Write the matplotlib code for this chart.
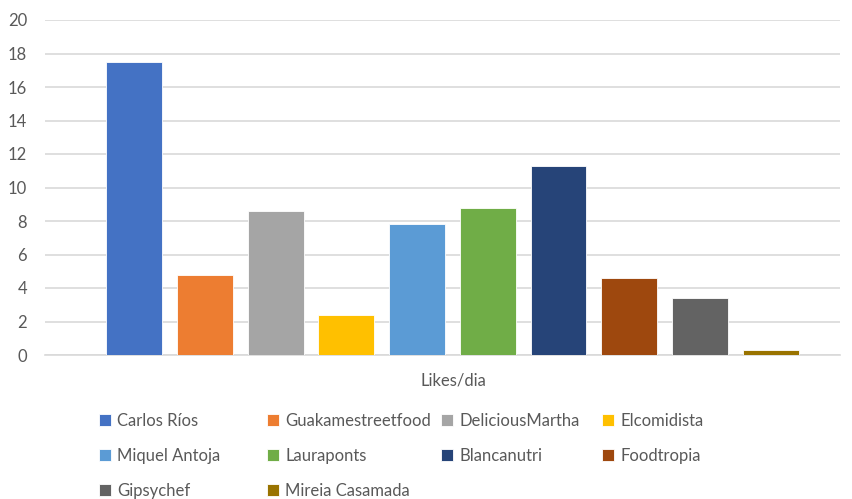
import matplotlib.pyplot as plt

# data
names = ['Carlos Ríos', 'Guakamestreetfood', 'DeliciousMartha', 'Elcomidista',
         'Miquel Antoja', 'Lauraponts', 'Blancanutri', 'Foodtropia',
         'Gipsychef', 'Mireia Casamada']
likes = [17.5, 4.75, 8.57, 2.38, 7.85, 8.78, 11.3, 4.62, 3.4, 0.3]
colors = ['#4472C4', '#ED7D31', '#A5A5A5', '#FFC000', '#5B9BD5',
          '#70AD47', '#264478', '#9E480E', '#636363', '#997300']
yticks = [0, 2, 4, 6, 8, 10, 12, 14, 16, 18, 20]
category = 'Likes/dia'

text_color = '#595959'
grid_color = '#D9D9D9'
plt.rcParams['font.family'] = ['Lato', 'DejaVu Sans']

fig = plt.figure(figsize=(8.53, 4.99), dpi=100)
ax = fig.add_axes([45 / 853, 144 / 499, 795 / 853, 335 / 499])

bars = []
for i, (n, v, c) in enumerate(zip(names, likes, colors)):
    b = ax.bar(i, v, width=0.79, color=c, edgecolor='white', linewidth=0.6,
               label=n, zorder=3)
    bars.append(b)

ax.set_xlim(-1.26, 9.98)
ax.set_ylim(0, 20)
ax.set_yticks(yticks)
ax.set_xticks([])
ax.yaxis.grid(True, color=grid_color, linewidth=1.2, zorder=0)
ax.tick_params(axis='y', length=0, pad=13, labelsize=12, labelcolor=text_color)
for s in ['top', 'right', 'left']:
    ax.spines[s].set_visible(False)
ax.spines['bottom'].set_color(grid_color)
ax.spines['bottom'].set_linewidth(1.2)

fig.text(453 / 853, 1 - 381 / 499, category, ha='center', va='center',
         fontsize=12, color=text_color)

# legend laid out in 4 columns, row by row like the original
col_x = [99, 267, 441, 602]
for c in range(4):
    idx = [k for k in (c, c + 4, c + 8) if k < len(names)]
    leg = fig.legend([bars[k] for k in idx], [names[k] for k in idx],
                     loc='upper left', bbox_to_anchor=(col_x[c] / 853, 1 - 413 / 499),
                     frameon=False, fontsize=12, handlelength=0.7, handleheight=0.7,
                     handletextpad=0.4, labelspacing=1.13, borderaxespad=0,
                     borderpad=0)
    for t in leg.get_texts():
        t.set_color(text_color)

fig.savefig('out.png', dpi=100)
